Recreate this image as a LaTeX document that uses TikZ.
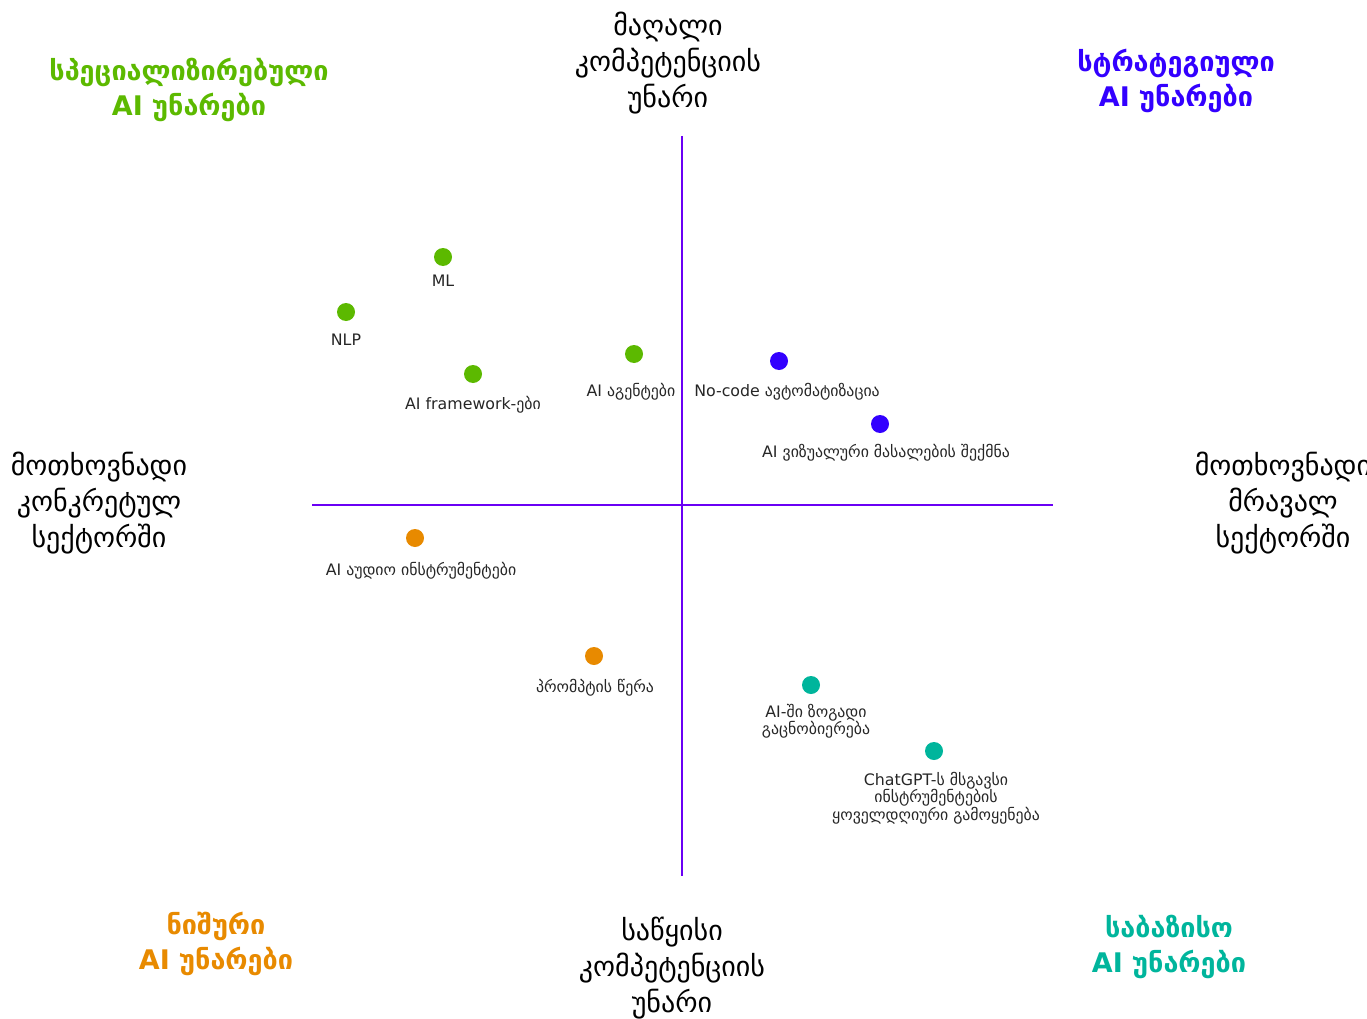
\documentclass[tikz,border=0pt]{standalone}
\usepackage{fontspec}
\setmainfont{DejaVu Sans}
\definecolor{axis}{HTML}{6A00F4}
\definecolor{cgreen}{HTML}{5CB900}
\definecolor{cblue}{HTML}{3300FF}
\definecolor{corange}{HTML}{E88A00}
\definecolor{cteal}{HTML}{00B59C}
\tikzset{
  axlabel/.style={align=center,font=\fontsize{28}{36}\selectfont,text=black,inner sep=0pt},
  title/.style={align=center,font=\bfseries\fontsize{27}{35.5}\selectfont,inner sep=0pt},
  dot/.style={circle,fill=#1,minimum size=18pt,inner sep=0pt},
  lab/.style={align=center,font=\fontsize{15.8}{17.5}\selectfont,text=black!85,inner sep=0pt,anchor=north},
  axline/.style={draw=axis,line width=2.3pt}
}
\begin{document}
\begin{tikzpicture}[x=1pt,y=-1pt]
\useasboundingbox (0,0) rectangle (1367,1019);
\clip (0,0) rectangle (1367,1019);
% axes
\coordinate (vt) at (682,136);
\coordinate (vb) at (682,876);
\coordinate (hl) at (312,505);
\coordinate (hr) at (1053,505);
\draw[axline] (vt) -- (vb);
\draw[axline] (hl) -- (hr);
% axis labels
\node[axlabel] (top) at (668,63) {მაღალი\\კომპეტენციის\\უნარი};
\node[axlabel] (bot) at (672,968) {საწყისი\\კომპეტენციის\\უნარი};
\node[axlabel] (left) at (99,503) {მოთხოვნადი\\კონკრეტულ\\სექტორში};
\node[axlabel] (right) at (1283,503) {მოთხოვნადი\\მრავალ\\სექტორში};
% titles
\node[title,text=cgreen] (tg) at (189,90) {სპეციალიზირებული\\AI უნარები};
\node[title,text=cblue] (tb) at (1176,81) {სტრატეგიული\\AI უნარები};
\node[title,text=corange] (to) at (216,944) {ნიშური\\AI უნარები};
\node[title,text=cteal] (tt) at (1169,947) {საბაზისო\\AI უნარები};
% points
\node[dot=cgreen] (ml) at (443,257) {};
\node[lab] (mll) at (443,275) {ML};
\node[dot=cgreen] (nlp) at (346,312) {};
\node[lab] (nlpl) at (346,334) {NLP};
\node[dot=cgreen] (fw) at (473,374) {};
\node[lab] (fwl) at (473,396) {AI framework-ები};
\node[dot=cgreen] (ag) at (634,354) {};
\node[lab] (agl) at (631,383) {AI აგენტები};
\node[dot=cblue] (nc) at (779,361) {};
\node[lab] (ncl) at (787,383) {No-code ავტომატიზაცია};
\node[dot=cblue] (vis) at (880,424) {};
\node[lab] (visl) at (886,444) {AI ვიზუალური მასალების შექმნა};
\node[dot=corange] (aud) at (415,538) {};
\node[lab] (audl) at (421,562) {AI აუდიო ინსტრუმენტები};
\node[dot=corange] (pr) at (594,656) {};
\node[lab] (prl) at (595,679) {პრომპტის წერა};
\node[dot=cteal] (gen) at (811,685) {};
\node[lab] (genl) at (816,704) {AI-ში ზოგადი\\გაცნობიერება};
\node[dot=cteal] (gpt) at (934,751) {};
\node[lab] (gptl) at (936,772) {ChatGPT-ს მსგავსი\\ინსტრუმენტების\\ყოველდღიური გამოყენება};
\end{tikzpicture}
\end{document}
